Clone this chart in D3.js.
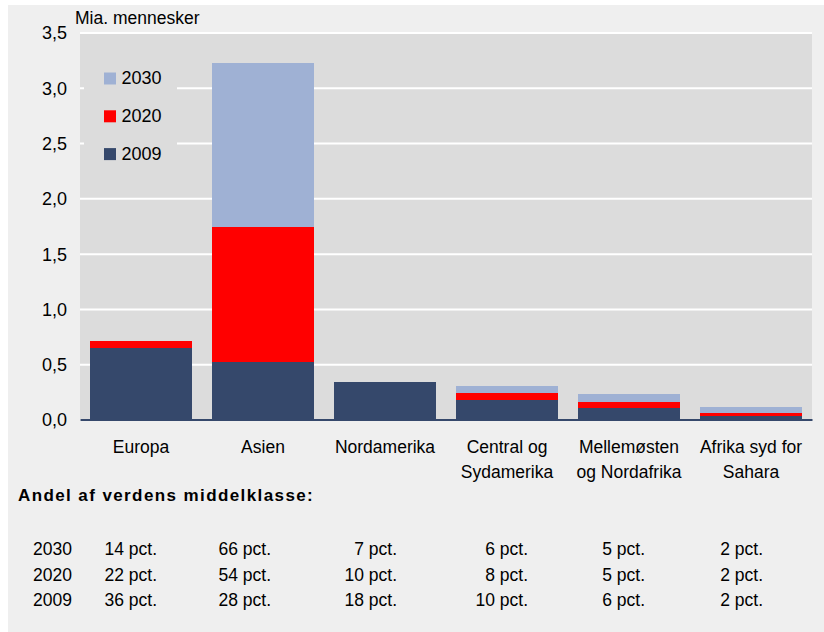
<!DOCTYPE html>
<html>
<head>
<meta charset="utf-8">
<script src="https://cdn.jsdelivr.net/npm/d3@7"></script>
<style>
  body { margin: 0; background: #ffffff; }
  svg text { font-family: Arial, "Liberation Sans", sans-serif; fill: #000; }
</style>
</head>
<body>
<div class="canva"></div>
<script>
// regioner og aar
var categories = ["Europa", "Asien", "Nordamerika", "Central og\nSydamerika", "Mellemøsten\nog Nordafrika", "Afrika syd for\nSahara"];
var years = ["2030", "2020", "2009"];

// middelklasse, mia. mennesker (barerne ligger oven i hinanden, 2030 bagerst)
var v2030 = [0.64, 3.22, 0.32, 0.30, 0.23, 0.11];
var v2020 = [0.71, 1.74, 0.33, 0.24, 0.16, 0.06];
var v2009 = [0.65, 0.52, 0.34, 0.18, 0.10, 0.03];

// andel af verdens middelklasse, pct.
var share2030 = [14, 66, 7, 6, 5, 2];
var share2020 = [22, 54, 10, 8, 5, 2];
var share2009 = [36, 28, 18, 10, 6, 2];

var yTicks = [0, 0.5, 1, 1.5, 2, 2.5, 3, 3.5];

var colors = {"2030": "#9fb1d4", "2020": "#ff0000", "2009": "#35486b"};
var series = {"2030": v2030, "2020": v2020, "2009": v2009};
var shares = {"2030": share2030, "2020": share2020, "2009": share2009};

var W = 824, H = 632;
var margin = {top: 32.5, left: 80, right: 12, bottom: 212.5};
var width = W - margin.left - margin.right,
    height = H - margin.top - margin.bottom;

var svg = d3.select(".canva").append("svg")
  .attr("width", W).attr("height", H);

// baggrund
svg.append("rect").attr("x", 8).attr("y", 5).attr("width", W - 8).attr("height", H - 5)
  .attr("fill", "#efefef");

var g = svg.append("g").attr("transform", "translate(" + margin.left + "," + margin.top + ")");

g.append("rect").attr("width", width).attr("height", height).attr("fill", "#dcdcdc");

var x = d3.scaleBand().domain(categories).range([0, width])
  .paddingInner(0.17).paddingOuter(0.085);
var y = d3.scaleLinear().domain([0, 3.5]).range([height, 0]);

var fmt = function(d) { return d3.format(".1f")(d).replace(".", ","); };

// gitterlinjer
g.append("g")
  .call(d3.axisLeft(y).tickValues(yTicks).tickSize(-width).tickFormat(""))
  .call(function(a) { a.select(".domain").remove(); })
  .selectAll("line").attr("stroke", "#ffffff").attr("stroke-width", 2);

// y-akse tekst
g.append("g")
  .call(d3.axisLeft(y).tickValues(yTicks).tickSize(0).tickPadding(13).tickFormat(fmt))
  .call(function(a) { a.select(".domain").remove(); })
  .selectAll("text")
    .style("font-size", "18px")
    .attr("dy", "0.36em");

svg.append("text").attr("x", 75).attr("y", 24)
  .style("font-size", "17.5px").text("Mia. mennesker");

// legende (daekker gitteret)
g.append("rect").attr("x", 4).attr("y", 27).attr("width", 93).attr("height", 125).attr("fill", "#dcdcdc");
years.forEach(function(yr, i) {
  var ly = 40 + i * 37.8;
  g.append("rect").attr("x", 24).attr("y", ly).attr("width", 12).attr("height", 12)
    .attr("fill", colors[yr]);
  g.append("text").attr("x", 41.5).attr("y", ly + 5).attr("dy", "0.36em")
    .style("font-size", "18px").text(yr);
});

// barer
years.forEach(function(yr) {
  g.selectAll(".bar" + yr)
    .data(series[yr])
    .enter()
    .append("rect")
      .attr("x", function(d, i) { return x(categories[i]); })
      .attr("width", x.bandwidth())
      .attr("y", function(d) { return y(d); })
      .attr("height", function(d) { return height - y(d); })
      .attr("fill", colors[yr])
      .attr("shape-rendering", "crispEdges");
});

// x-akse
var xAxis = g.append("g").attr("transform", "translate(0," + height + ")")
  .call(d3.axisBottom(x).tickSize(0).tickFormat(""));
xAxis.select(".domain").attr("stroke", "#35486b").attr("stroke-width", 2);

categories.forEach(function(c) {
  var lines = c.split("\n");
  var t = g.append("text").attr("text-anchor", "middle")
    .attr("x", x(c) + x.bandwidth() / 2).attr("y", height + 33)
    .style("font-size", "17.5px");
  lines.forEach(function(l, j) {
    t.append("tspan").attr("x", x(c) + x.bandwidth() / 2).attr("dy", j == 0 ? 0 : 25).text(l);
  });
});

// tabel
svg.append("text").attr("x", 18).attr("y", 501)
  .style("font-size", "17px").style("font-weight", "bold").style("letter-spacing", "1.4px")
  .text("Andel af verdens middelklasse:");

var colEnd = [157, 271, 397, 528, 645, 763];
years.forEach(function(yr, r) {
  var ry = 555 + r * 25.5;
  svg.append("text").attr("x", 33).attr("y", ry).style("font-size", "17.5px").text(yr);
  shares[yr].forEach(function(v, i) {
    svg.append("text").attr("x", colEnd[i]).attr("y", ry).attr("text-anchor", "end")
      .style("font-size", "17.5px").text(v + " pct.");
  });
});
</script>
</body>
</html>
